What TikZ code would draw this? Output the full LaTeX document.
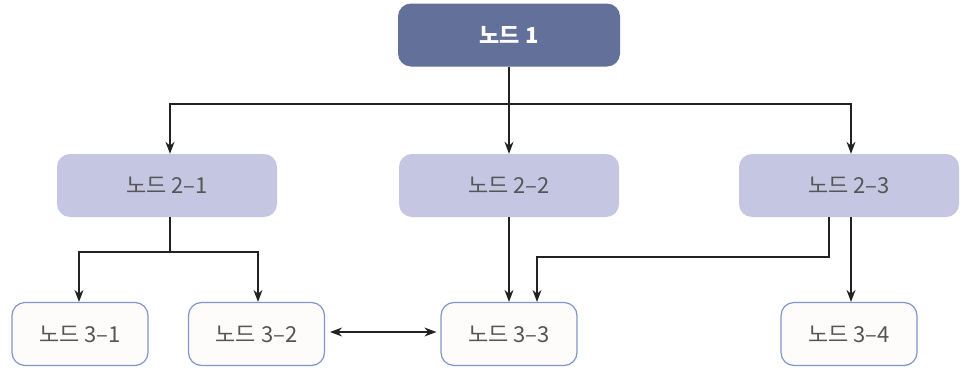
\documentclass[tikz,border=0pt]{standalone}
\usepackage{fontspec}
\setmainfont{Noto Sans CJK KR}
\usetikzlibrary{arrows.meta}
\definecolor{topfill}{HTML}{637099}
\definecolor{midfill}{HTML}{C5C7E2}
\definecolor{lowfill}{HTML}{FDFCFA}
\definecolor{lowedge}{HTML}{7F95C9}
\definecolor{txt}{HTML}{555555}
\definecolor{ln}{HTML}{222222}
\tikzset{
  box/.style={rounded corners=13pt, minimum height=63pt, inner sep=0pt,
     font=\fontsize{22}{26}\selectfont},
  topbox/.style={box, fill=topfill, minimum width=222pt, text=white, font=\fontsize{22}{26}\selectfont\bfseries},
  midbox/.style={box, fill=midfill, minimum width=220pt, text=txt},
  lowbox/.style={box, fill=lowfill, draw=lowedge, line width=1.2pt, minimum width=136pt, minimum height=63pt, text=txt},
  conn/.style={draw=ln, line width=1.1pt},
  arr/.style={conn, -{Stealth[length=12pt,width=9pt]}},
  darr/.style={conn, {Stealth[length=12pt,width=9pt]}-{Stealth[length=12pt,width=9pt]}}
}
\begin{document}
\begin{tikzpicture}[x=1pt,y=-1pt]
\useasboundingbox (0,0) rectangle (973,375);
\node[topbox] (n1) at (509,35) {노드 1};
\node[midbox] (n21) at (167,185.5) {노드 2–1};
\node[midbox] (n22) at (509,185.5) {노드 2–2};
\node[midbox] (n23) at (849,185.5) {노드 2–3};
\node[lowbox] (n31) at (80,334) {노드 3–1};
\node[lowbox] (n32) at (256.5,334) {노드 3–2};
\node[lowbox] (n33) at (509,334) {노드 3–3};
\node[lowbox] (n34) at (849,334) {노드 3–4};
% level 1 -> 2
\draw[conn] (n1.south) -- (509,104) coordinate (j1);
\draw[arr] (j1) -| ([xshift=3pt]n21.north);
\draw[arr] (j1) -- (n22.north);
\draw[arr] (j1) -| ([xshift=2pt]n23.north);
% 2-1 -> 3-1, 3-2
\draw[conn] ([xshift=3pt]n21.south) -- (170,252) coordinate (j2);
\draw[arr] (j2) -| ([xshift=-1pt]n31.north);
\draw[arr] (j2) -| ([xshift=1.5pt]n32.north);
% 2-2 -> 3-3
\draw[arr] (n22.south) -- (n33.north);
% 2-3 -> 3-3
\draw[arr] ([xshift=-20pt]n23.south) |- (537,257) -- ([xshift=28pt]n33.north);
% 2-3 -> 3-4
\draw[arr] ([xshift=2pt]n23.south) -- ([xshift=2pt]n34.north);
% 3-2 <-> 3-3
\draw[darr] ([xshift=5pt,yshift=2pt]n32.east) -- ([xshift=-4pt,yshift=2pt]n33.west);
\end{tikzpicture}
\end{document}
